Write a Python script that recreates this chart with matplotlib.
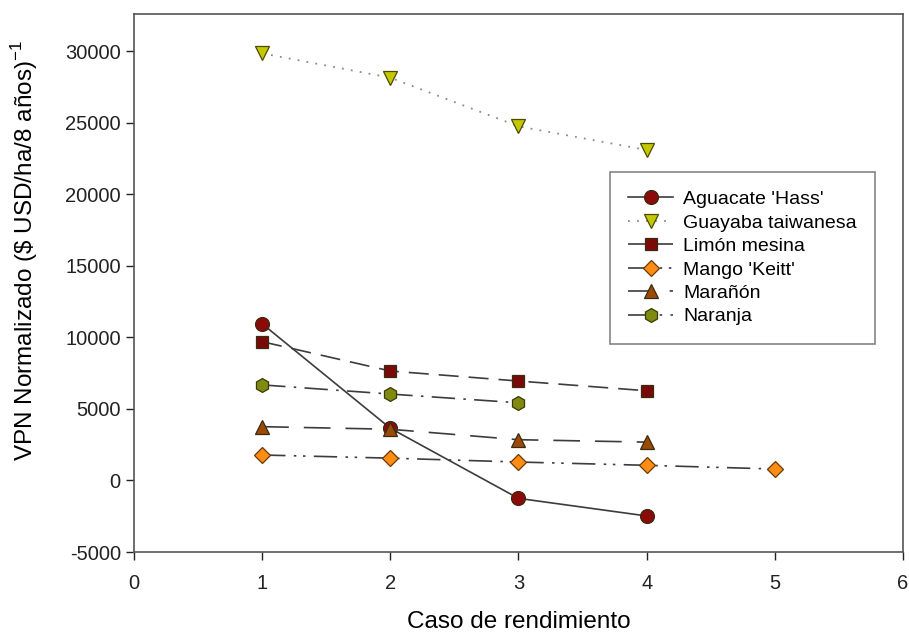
import matplotlib.pyplot as plt

plt.rcParams['font.family'] = ['Liberation Sans', 'DejaVu Sans']
plt.rcParams['axes.unicode_minus'] = False

# datos
caso = [1, 2, 3, 4, 5]
aguacate = [10950, 3650, -1250, -2480]
guayaba = [29850, 28150, 24750, 23100]
limon = [9700, 7650, 6950, 6270]
mango = [1780, 1560, 1290, 1060, 800]
maranon = [3760, 3580, 2850, 2680]
naranja = [6680, 6040, 5430]

linea = '#3c3c3c'
borde = '#3a2a10'

fig = plt.figure(figsize=(9.09, 6.37), dpi=100)
ax = fig.add_axes([0.1474, 0.1334, 0.846, 0.8446])

ax.plot(caso[:4], aguacate, color=linea, lw=1.2, ls='-', marker='o', ms=10,
        mfc='#8b0a0a', mec=borde, mew=0.9, label="Aguacate 'Hass'")
ax.plot(caso[:4], guayaba, color='#8a8a8a', lw=1.3, ls=(0, (1, 4)), marker='v', ms=10,
        mfc='#c4c800', mec='#4a4a00', mew=0.9, label='Guayaba taiwanesa')
ax.plot(caso[:4], limon, color=linea, lw=1.2, ls=(0, (12, 6)), marker='s', ms=8.5,
        mfc='#7a0a0a', mec=borde, mew=0.9, label='Limón mesina')
ax.plot(caso, mango, color=linea, lw=1.2, ls=(0, (14, 5, 1.5, 4, 1.5, 5)), marker='D', ms=8,
        mfc='#ff8c14', mec='#6a3a00', mew=0.9, label="Mango 'Keitt'")
ax.plot(caso[:4], maranon, color=linea, lw=1.2, ls=(0, (16, 9)), marker='^', ms=10,
        mfc='#9c4a08', mec=borde, mew=0.9, label='Marañón')
ax.plot(caso[:3], naranja, color=linea, lw=1.2, ls=(0, (14, 5, 1.5, 5)), marker='h', ms=10,
        mfc='#7f8a10', mec='#3a3a00', mew=0.9, label='Naranja')

ax.set_xlim(0, 6)
ax.set_ylim(-5000, 32600)
ax.set_xticks(range(0, 7))
ax.set_yticks(range(-5000, 30001, 5000))
ax.tick_params(direction='out', length=6, width=1, labelsize=14.5, colors='#222222')
ax.tick_params(axis='x', pad=10)
for s in ax.spines.values():
    s.set_color('#555555')
    s.set_linewidth(1.2)

ax.set_xlabel('Caso de rendimiento', fontsize=17.5, labelpad=13)
ax.set_ylabel(r'VPN Normalizado (\$ USD/ha/8 años)$^{\mathregular{-1}}$', fontsize=17.5)
ax.yaxis.set_label_coords(-0.122, 0.56)

leg = ax.legend(loc='upper left', bbox_to_anchor=(0.619, 0.706), fontsize=14,
                frameon=True, fancybox=False, edgecolor='#666666', handlelength=2.3,
                borderpad=0.95, labelspacing=0.3, handletextpad=0.5, borderaxespad=0)
leg.get_frame().set_linewidth(1.2)

fig.savefig('out.png', dpi=100)
